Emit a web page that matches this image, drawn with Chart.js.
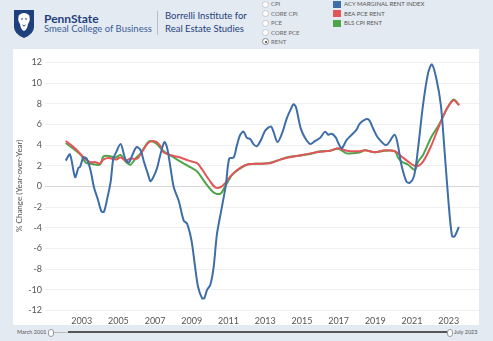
<!DOCTYPE html>
<html>
<head>
<meta charset="utf-8">
<script src="https://cdn.jsdelivr.net/npm/chart.js@4"></script>
<style>
  html, body { margin: 0; padding: 0; }
  body { width: 493px; height: 341px; background: #e4eaf1; position: relative; overflow: hidden; font-family: "Lato", "Open Sans", sans-serif; }
  #panel { position: absolute; left: 13px; top: 49px; width: 466px; height: 276px; background: #fff; }
  #wrap { position: absolute; left: 13px; top: 49px; width: 466px; height: 278px; }
  .t { position: absolute; white-space: nowrap; }
  .radio { position: absolute; left: 262px; width: 7px; height: 7px; border: 1px solid #c4cad2; border-radius: 50%; background: #fff; box-sizing: border-box; }
  .radio.on { border-color: #888; }
  .radio.on::after { content: ""; position: absolute; left: 1.5px; top: 1.5px; width: 2px; height: 2px; border-radius: 50%; background: #333; }
  .rlab { position: absolute; left: 271px; font-size: 6px; color: #666; }
  .sw { position: absolute; left: 333px; width: 8px; height: 7px; }
  .llab { position: absolute; left: 344px; font-size: 6px; color: #555; }
</style>
</head>
<body>
<svg style="position:absolute;left:14px;top:10px" width="20" height="28" viewBox="0 0 20 28">
  <path d="M0 0 H20 V17 Q20 24 10 28 Q0 24 0 17 Z" fill="#1e407c"/>
  <path d="M5 5 Q10 1 15 5 Q17 10 14 14 Q13 20 10 21 Q7 20 6 14 Q3 10 5 5 Z" fill="#fff"/>
  <path d="M7 9 H9 M11 9 H13 M8.5 15 Q10 17 11.5 15" stroke="#1e407c" stroke-width="1" fill="none"/>
</svg>
<div class="t" style="left:44px;top:11px;font-size:12px;font-weight:bold;color:#1e407c;">PennState</div>
<div class="t" style="left:44px;top:23px;font-size:9.5px;color:#3b5d99;">Smeal College of Business</div>
<div style="position:absolute;left:157px;top:11px;width:1px;height:24px;background:#b4bdc9;"></div>
<div class="t" style="left:165px;top:10px;font-size:9.5px;color:#1e407c;">Borrelli Institute for</div>
<div class="t" style="left:165px;top:23px;font-size:9.5px;color:#1e407c;">Real Estate Studies</div>

<div class="radio" style="top:1px"></div><div class="rlab" style="top:0px">CPI</div>
<div class="radio" style="top:10px"></div><div class="rlab" style="top:10px">CORE CPI</div>
<div class="radio" style="top:20px"></div><div class="rlab" style="top:19px">PCE</div>
<div class="radio" style="top:29px"></div><div class="rlab" style="top:29px">CORE PCE</div>
<div class="radio on" style="top:38px"></div><div class="rlab" style="top:38px">RENT</div>

<div class="sw" style="top:1px;background:#3e6ea8"></div><div class="llab" style="top:0px">ACY MARGINAL RENT INDEX</div>
<div class="sw" style="top:10px;background:#e2565a"></div><div class="llab" style="top:10px">BEA PCE RENT</div>
<div class="sw" style="top:20px;background:#4fa44a"></div><div class="llab" style="top:19px">BLS CPI RENT</div>

<div id="panel"></div>
<div id="wrap"><canvas id="plot"></canvas></div>

<div class="t" style="left:17px;top:329px;font-size:5.5px;color:#555;">March 2001</div>
<div style="position:absolute;left:53px;top:332px;width:15px;height:1px;background:#bbb;"></div>
<div style="position:absolute;left:68px;top:331px;width:380px;height:2px;background:#555;"></div>
<div style="position:absolute;left:48px;top:329px;width:4px;height:6px;border:1px solid #999;border-radius:3px;background:#fff;"></div>
<div style="position:absolute;left:447px;top:329px;width:4px;height:6px;border:1px solid #999;border-radius:3px;background:#fff;"></div>
<div class="t" style="left:454px;top:329px;font-size:5.5px;color:#555;">July 2023</div>

<script>
// values (decimal years, % change YoY)
const acyDates = [2002.13, 2002.36, 2002.64, 2002.82, 2002.91, 2003.09, 2003.27, 2003.49, 2003.67, 2003.89,
    2004.07, 2004.21, 2004.40, 2004.58, 2004.72, 2004.85, 2005.12, 2005.30, 2005.39, 2005.57,
    2005.75, 2005.99, 2006.21, 2006.39, 2006.61, 2006.75, 2006.93, 2007.11, 2007.29, 2007.51,
    2007.66, 2007.84, 2008.02, 2008.29, 2008.56, 2008.74, 2008.98, 2009.16, 2009.34, 2009.56,
    2009.68, 2009.83, 2010.01, 2010.19, 2010.37, 2010.64, 2010.86, 2011.04, 2011.28, 2011.46,
    2011.64, 2011.82, 2012.00, 2012.18, 2012.36, 2012.55, 2012.77, 2013.00, 2013.31, 2013.45,
    2013.67, 2013.91, 2014.18, 2014.40, 2014.54, 2014.67, 2014.81, 2014.94, 2015.17, 2015.45,
    2015.72, 2015.99, 2016.26, 2016.44, 2016.63, 2016.86, 2016.98, 2017.17, 2017.44, 2017.71,
    2017.98, 2018.16, 2018.61, 2018.88, 2019.15, 2019.60, 2020.05, 2020.23, 2020.42, 2020.69,
    2020.87, 2021.11, 2021.33, 2021.60, 2021.88, 2022.09, 2022.33, 2022.57, 2022.75, 2022.97,
    2023.18, 2023.33, 2023.55];
const acyValues = [2.5, 3.1, 0.9, 1.8, 1.9, 2.8, 2.7, 1.5, -0.1, -1.3,
    -2.4, -2.45, -1.1, 0.5, 2.7, 3.2, 4.1, 3.1, 2.6, 2.3,
    3.0, 3.8, 3.5, 2.4, 1.2, 0.5, 1.0, 1.8, 3.1, 4.3,
    3.7, 1.8, -0.1, -1.4, -3.3, -3.6, -5.2, -7.5, -9.7, -10.8,
    -10.8, -10.0, -9.5, -7.8, -4.6, -2.0, 0.2, 2.7, 2.8, 4.0,
    5.0, 5.3, 4.7, 4.6, 4.1, 3.9, 4.5, 5.4, 5.8, 5.3,
    4.3, 5.1, 6.6, 7.5, 7.95, 7.7, 6.6, 5.6, 4.7, 4.1,
    4.4, 4.7, 5.3, 5.0, 5.1, 4.7, 4.2, 3.7, 4.5, 5.0,
    5.5, 6.1, 6.5, 5.6, 4.7, 4.0, 5.0, 4.0, 2.1, 0.5,
    0.35, 1.0, 3.7, 7.9, 11.0, 11.8, 10.4, 7.9, 4.0, -1.1,
    -4.8, -4.8, -3.9];

const beaDates = [2002.13, 2002.49, 2002.77, 2002.95, 2003.22, 2003.49, 2003.76, 2003.99, 2004.18, 2004.48,
    2004.85, 2005.12, 2005.39, 2005.66, 2006.03, 2006.30, 2006.66, 2007.02, 2007.29, 2007.47,
    2007.93, 2008.38, 2008.83, 2009.29, 2009.56, 2009.92, 2010.28, 2010.59, 2010.83, 2011.19,
    2011.64, 2012.09, 2012.73, 2013.27, 2013.82, 2014.27, 2014.90, 2015.45, 2015.99, 2016.53,
    2016.98, 2017.44, 2018.16, 2018.43, 2018.98, 2019.52, 2020.07, 2020.43, 2020.79, 2021.24,
    2021.60, 2022.06, 2022.60, 2022.96, 2023.27, 2023.42, 2023.56];
const beaValues = [4.4, 3.9, 3.45, 3.1, 2.6, 2.35, 2.35, 2.2, 2.6, 2.75,
    2.6, 2.8, 2.5, 2.7, 2.7, 3.4, 4.25, 4.35, 3.9, 3.3,
    3.0, 2.8, 2.5, 2.25, 1.65, 0.7, -0.1, -0.05, 0.35, 1.15,
    1.8, 2.15, 2.2, 2.25, 2.6, 2.8, 3.0, 3.2, 3.35, 3.45,
    3.7, 3.45, 3.4, 3.5, 3.3, 3.5, 3.4, 2.9, 2.4, 1.95,
    2.4, 4.0, 6.4, 7.7, 8.35, 8.15, 7.85];

const blsDates = [2002.13, 2002.58, 2002.95, 2003.22, 2003.49, 2003.99, 2004.18, 2004.48, 2004.85, 2005.12,
    2005.39, 2005.66, 2005.93, 2006.21, 2006.66, 2007.02, 2007.47, 2007.93, 2008.38, 2008.83,
    2009.29, 2009.74, 2010.20, 2010.56, 2010.83, 2011.19, 2011.64, 2012.09, 2012.73, 2013.27,
    2013.82, 2014.27, 2014.90, 2015.45, 2015.99, 2016.53, 2016.98, 2017.44, 2018.16, 2018.43,
    2018.98, 2019.52, 2020.07, 2020.25, 2020.43, 2020.79, 2021.15, 2021.33, 2021.60, 2022.06,
    2022.51, 2022.96, 2023.27, 2023.56];
const blsValues = [4.2, 3.6, 3.05, 2.3, 2.2, 2.1, 2.9, 2.95, 2.8, 3.05,
    2.4, 2.1, 2.7, 3.2, 4.35, 4.2, 3.4, 2.9, 2.4, 1.95,
    1.45, 0.35, -0.6, -0.7, 0.05, 1.1, 1.75, 2.15, 2.2, 2.3,
    2.6, 2.85, 3.0, 3.15, 3.4, 3.45, 3.65, 3.2, 3.3, 3.5,
    3.3, 3.45, 3.4, 2.75, 2.4, 2.1, 1.6, 2.4, 3.05, 4.8,
    6.1, 7.7, 8.4, 7.9];

const xTickYears = [2003, 2005, 2007, 2009, 2011, 2013, 2015, 2017, 2019, 2021, 2023];
const yTickValues = [-12, -10, -8, -6, -4, -2, 0, 2, 4, 6, 8, 10, 12];

function toPoints(dates, values) {
    return dates.map((d, i) => ({x: d, y: values[i]}));
}

function lineSet(label, dates, values, color) {
    return {
        label: label,
        data: toPoints(dates, values),
        borderColor: color,
        backgroundColor: color,
        borderWidth: 2,
        pointRadius: 0,
        tension: 0.3,
        fill: false
    };
}

const ctx = document.getElementById("plot").getContext("2d");
new Chart(ctx, {
    type: 'line',
    data: {
        datasets: [
            lineSet("ACY MARGINAL RENT INDEX", acyDates, acyValues, "#3e6ea8"),
            lineSet("BEA PCE RENT", beaDates, beaValues, "#e2565a"),
            lineSet("BLS CPI RENT", blsDates, blsValues, "#4fa44a")
        ]
    },
    options: {
        responsive: true,
        maintainAspectRatio: false,
        animation: false,
        layout: {padding: {top: 6, right: 0, left: 0, bottom: 0}},
        plugins: {legend: {display: false}, tooltip: {enabled: false}},
        scales: {
            x: {
                type: 'linear',
                min: 2001.0,
                max: 2024.65,
                afterBuildTicks: (s) => { s.ticks = xTickYears.map(v => ({value: v})); },
                afterFit: (s) => { s.height = 13; },
                grid: {display: false, drawTicks: false},
                border: {display: false},
                ticks: {
                    autoSkip: false,
                    maxRotation: 0,
                    padding: 2,
                    color: "#555",
                    font: {family: "Lato", size: 9},
                    callback: (v) => String(v)
                }
            },
            y: {
                min: -12.33,
                max: 12.48,
                afterBuildTicks: (s) => { s.ticks = yTickValues.map(v => ({value: v})); },
                afterFit: (s) => { s.width = 32; },
                grid: {
                    drawTicks: false,
                    color: (c) => (c.tick && c.tick.value === 0) ? "#d6d6d6" : "#f0f0f0"
                },
                border: {display: false},
                ticks: {
                    padding: 3,
                    color: "#555",
                    font: {family: "Lato", size: 9}
                },
                title: {
                    display: true,
                    text: "% Change (Year-over-Year)",
                    color: "#555",
                    padding: {top: 2, bottom: 0},
                    font: {family: "Lato", size: 8}
                }
            }
        }
    }
});
</script>
</body>
</html>
